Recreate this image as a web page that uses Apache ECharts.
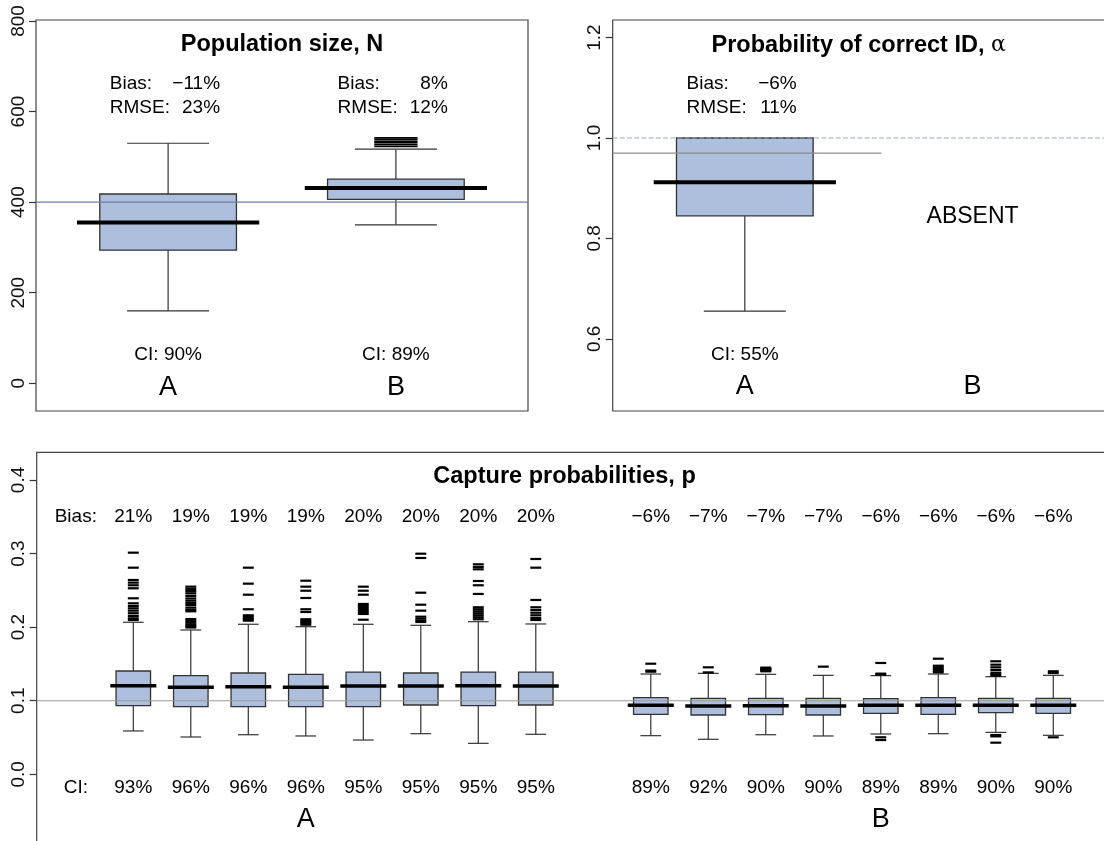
<!DOCTYPE html>
<html>
<head>
<meta charset="utf-8">
<script src="https://cdn.jsdelivr.net/npm/echarts@6/dist/echarts.min.js"></script>
<style>
  html, body { margin: 0; padding: 0; background: #ffffff; }
  #chart { width: 1104px; height: 841px; }
</style>
</head>
<body>
<div id="chart"></div>
<script>
// ---------- Population size, N ----------
const popCategories = ['A', 'B'];
// [lower whisker, Q1, median, Q3, upper whisker]
const popStats = [
  [160, 294, 355, 418, 530],
  [350, 406, 431, 451, 517]
];
const popOutliersA = [];
const popOutliersB = [523, 527, 531, 534, 538, 542];
const popBias = ['\u221211%', '8%'];
const popRmse = ['23%', '12%'];
const popCI = ['90%', '89%'];
const popTrue = 400;
const popTicks = [0, 200, 400, 600, 800];

// ---------- Probability of correct ID, alpha ----------
const alphaCategories = ['A', 'B'];
const alphaStatsA = [0.655, 0.845, 0.912, 1.0, 1.0];
const alphaBias = ['\u22126%'];
const alphaRmse = ['11%'];
const alphaCI = ['55%'];
const alphaTrue = 1.0;
const alphaRef = 0.97;
const alphaTicks = [0.6, 0.8, 1.0, 1.2];

// ---------- Capture probabilities, p ----------
const pCategories = ['A', 'B'];
const pStatsA = [
  [0.0589, 0.0933, 0.1205, 0.1404, 0.2066],
  [0.0507, 0.0919, 0.1182, 0.1340, 0.1961],
  [0.0538, 0.0919, 0.1191, 0.1377, 0.2039],
  [0.0521, 0.0919, 0.1182, 0.1359, 0.2006],
  [0.0466, 0.0919, 0.1200, 0.1390, 0.2039],
  [0.0552, 0.0942, 0.1200, 0.1377, 0.2025],
  [0.0421, 0.0933, 0.1205, 0.1390, 0.2074],
  [0.0544, 0.0942, 0.1200, 0.1390, 0.2043]
];
const pStatsB = [
  [0.0525, 0.0815, 0.0938, 0.1041, 0.1363],
  [0.0476, 0.0806, 0.0928, 0.1033, 0.1372],
  [0.0538, 0.0810, 0.0933, 0.1033, 0.1359],
  [0.0521, 0.0806, 0.0928, 0.1033, 0.1345],
  [0.0548, 0.0829, 0.0938, 0.1028, 0.1341],
  [0.0552, 0.0815, 0.0938, 0.1041, 0.1363],
  [0.0570, 0.0838, 0.0938, 0.1033, 0.1327],
  [0.0530, 0.0829, 0.0938, 0.1033, 0.1345]
];
const pOutliersA = [
  [0.3012, 0.2808, 0.2641, 0.2605, 0.2569, 0.2528, 0.2392, 0.2324, 0.2288, 0.2256, 0.2224, 0.2189, 0.2152, 0.2120, 0.2097],
  [0.2550, 0.2519, 0.2490, 0.2460, 0.2425, 0.2390, 0.2360, 0.2330, 0.2300, 0.2265, 0.2235, 0.2215, 0.2110, 0.2085, 0.2060, 0.2035, 0.2015, 0.1995],
  [0.2808, 0.2591, 0.2441, 0.2243, 0.2161, 0.2142, 0.2124, 0.2107, 0.2088],
  [0.2631, 0.2550, 0.2495, 0.2396, 0.2243, 0.2206, 0.2107, 0.2088, 0.2070, 0.2052, 0.2033],
  [0.2550, 0.2495, 0.2441, 0.2315, 0.2288, 0.2260, 0.2233, 0.2206, 0.2179, 0.2101],
  [0.2998, 0.2940, 0.2468, 0.2305, 0.2224, 0.2142, 0.2115, 0.2088, 0.2070],
  [0.2854, 0.2818, 0.2786, 0.2627, 0.2569, 0.2451, 0.2270, 0.2243, 0.2215, 0.2188, 0.2161, 0.2134, 0.2107],
  [0.2926, 0.2808, 0.2369, 0.2270, 0.2233, 0.2196, 0.2161, 0.2124, 0.2097]
];
const pOutliersB = [
  [0.1503, 0.1410, 0.1395],
  [0.1454, 0.1385],
  [0.1450, 0.1440, 0.1430, 0.1420, 0.1410, 0.1400],
  [0.1463],
  [0.1513, 0.1368, 0.1355, 0.0503, 0.0466],
  [0.1571, 0.1476, 0.1454, 0.1431, 0.1408, 0.1386],
  [0.1536, 0.1490, 0.1454, 0.1418, 0.1381, 0.1359, 0.1341, 0.0534, 0.0516, 0.0430],
  [0.1400, 0.1377, 0.0503]
];
const pBiasA = ['21%', '19%', '19%', '19%', '20%', '20%', '20%', '20%'];
const pBiasB = ['\u22126%', '\u22127%', '\u22127%', '\u22127%', '\u22126%', '\u22126%', '\u22126%', '\u22126%'];
const pCIA = ['93%', '96%', '96%', '96%', '95%', '95%', '95%', '95%'];
const pCIB = ['89%', '92%', '90%', '90%', '89%', '89%', '90%', '90%'];
const pTrue = 0.1;
const pTicks = [0.0, 0.1, 0.2, 0.3, 0.4];

// ---------- drawing helpers ----------
const FONT = '"Liberation Sans", Arial, Helvetica, sans-serif';
const BOX_FILL = '#adbfdc';
const INK = '#333333';

// Box-and-whisker glyph: box half-width 0.3, staple half-width 0.18, median half-width 0.4 (x units)
function boxSeries(gi, positions, stats, medianWidth) {
  return {
    type: 'custom', xAxisIndex: gi, yAxisIndex: gi, z: 2, silent: true,
    data: positions.map((p, i) => [p].concat(stats[i])),
    encode: { x: 0, y: [1, 2, 3, 4, 5] },
    renderItem: function (params, api) {
      const x = api.value(0);
      const lo = api.value(1), q1 = api.value(2), md = api.value(3), q3 = api.value(4), hi = api.value(5);
      const c = (xx, yy) => api.coord([xx, yy]);
      const seg = (a, b, w, col) => ({ type: 'line', shape: { x1: a[0], y1: a[1], x2: b[0], y2: b[1] }, style: { stroke: col || INK, lineWidth: w } });
      const tl = c(x - 0.3, q3), br = c(x + 0.3, q1);
      const kids = [];
      if (hi > q3) { kids.push(seg(c(x, q3), c(x, hi), 1.2)); kids.push(seg(c(x - 0.18, hi), c(x + 0.18, hi), 1.2)); }
      kids.push(seg(c(x, q1), c(x, lo), 1.2));
      kids.push(seg(c(x - 0.18, lo), c(x + 0.18, lo), 1.2));
      kids.push({ type: 'rect', shape: { x: tl[0], y: tl[1], width: br[0] - tl[0], height: br[1] - tl[1] },
                  style: { fill: BOX_FILL, stroke: INK, lineWidth: 1.3 } });
      kids.push(seg(c(x - 0.4, md), c(x + 0.4, md), medianWidth, '#000000'));
      return { type: 'group', children: kids };
    }
  };
}

// Outliers drawn as short horizontal dashes
function outlierSeries(gi, positions, lists, lw) {
  const data = [];
  positions.forEach((p, i) => (lists[i] || []).forEach(v => data.push([p, v])));
  return {
    type: 'custom', xAxisIndex: gi, yAxisIndex: gi, z: 2, silent: true,
    data: data, encode: { x: 0, y: 1 },
    renderItem: function (params, api) {
      const a = api.coord([api.value(0) - 0.095, api.value(1)]);
      const b = api.coord([api.value(0) + 0.095, api.value(1)]);
      return { type: 'line', shape: { x1: a[0], y1: a[1], x2: b[0], y2: b[1] }, style: { stroke: '#000', lineWidth: lw } };
    }
  };
}

function refLine(gi, x1, x2, y, color, type) {
  return {
    type: 'line', xAxisIndex: gi, yAxisIndex: gi, z: 3, silent: true,
    data: [[x1, y], [x2, y]], showSymbol: false, symbol: 'none',
    lineStyle: { color: color, width: 1.2, type: type || 'solid' }, animation: false
  };
}

// Text placed at data coordinates
function textSeries(gi, items) {
  return {
    type: 'custom', xAxisIndex: gi, yAxisIndex: gi, z: 4, silent: true,
    data: items.map(t => [t.x, t.y]), encode: { x: 0, y: 1 },
    renderItem: function (params, api) {
      const t = items[params.dataIndex];
      const p = api.coord([api.value(0), api.value(1)]);
      const style = {
        text: t.text, fill: '#000', fontFamily: FONT,
        fontSize: t.size || 19, fontWeight: t.bold ? 'bold' : 'normal',
        align: t.align || 'center', verticalAlign: 'middle'
      };
      if (t.rich) style.rich = t.rich;
      return { type: 'text', x: p[0], y: p[1], style: style };
    }
  };
}

function yAxis(gi, min, max, ticks, digits) {
  return {
    gridIndex: gi, type: 'value', min: min, max: max, position: 'left',
    axisLine: { show: false, onZero: false }, splitLine: { show: false },
    axisTick: { show: true, length: 7, customValues: ticks, lineStyle: { color: INK, width: 1.2 } },
    axisLabel: {
      customValues: ticks, rotate: 90, margin: 8, fontSize: 19, fontFamily: FONT, color: '#111',
      formatter: v => Number(v).toFixed(digits)
    }
  };
}
function xAxis(gi, min, max) {
  return { gridIndex: gi, type: 'value', min: min, max: max, show: false, axisLine: { onZero: false } };
}

// ---------- panel texts ----------
const popPos = [1, 2];
const popTexts = [{ x: 1.5, y: 747, text: 'Population size, N', bold: true, size: 23.5 }];
popPos.forEach((p, i) => {
  popTexts.push({ x: p - 0.256, y: 661, text: 'Bias:', align: 'left' });
  popTexts.push({ x: p + 0.228, y: 661, text: popBias[i], align: 'right' });
  popTexts.push({ x: p - 0.256, y: 608, text: 'RMSE:', align: 'left' });
  popTexts.push({ x: p + 0.228, y: 608, text: popRmse[i], align: 'right' });
  popTexts.push({ x: p, y: 62.5, text: 'CI: ' + popCI[i] });
  popTexts.push({ x: p, y: -8.5, text: popCategories[i], size: 27 });
});

const alphaTexts = [
  { x: 1.5, y: 1.185, text: '{b|Probability of correct ID, }{a|\u03b1}', size: 23.5,
    rich: { b: { fontFamily: FONT, fontWeight: 'bold', fontSize: 23.5, fill: '#000' },
            a: { fontFamily: '"DejaVu Serif", "Liberation Serif", serif', fontSize: 22, fill: '#000' } } },
  { x: 1 - 0.256, y: 1.1076, text: 'Bias:', align: 'left' },
  { x: 1 + 0.228, y: 1.1076, text: alphaBias[0], align: 'right' },
  { x: 1 - 0.256, y: 1.0598, text: 'RMSE:', align: 'left' },
  { x: 1 + 0.228, y: 1.0598, text: alphaRmse[0], align: 'right' },
  { x: 1, y: 0.5677, text: 'CI: ' + alphaCI[0] },
  { x: 2, y: 0.8432, text: 'ABSENT', size: 23 },
  { x: 1, y: 0.504, text: alphaCategories[0], size: 27 },
  { x: 2, y: 0.504, text: alphaCategories[1], size: 27 }
];

const pPosA = [1, 2, 3, 4, 5, 6, 7, 8];
const pPosB = [10, 11, 12, 13, 14, 15, 16, 17];
const pTexts = [
  { x: 8.5, y: 0.4045, text: 'Capture probabilities, p', bold: true, size: 23.5 },
  { x: 0, y: 0.3501, text: 'Bias:' },
  { x: 0, y: -0.0177, text: 'CI:' },
  { x: 4, y: -0.0621, text: pCategories[0], size: 27 },
  { x: 14, y: -0.0621, text: pCategories[1], size: 27 }
];
pPosA.forEach((p, i) => {
  pTexts.push({ x: p, y: 0.3501, text: pBiasA[i] });
  pTexts.push({ x: p, y: -0.0177, text: pCIA[i] });
});
pPosB.forEach((p, i) => {
  pTexts.push({ x: p, y: 0.3501, text: pBiasB[i] });
  pTexts.push({ x: p, y: -0.0177, text: pCIB[i] });
});

// Panels 2 and 3 run past the right/bottom page edge, so bounds clamping is turned off
const gridBase = { show: true, borderColor: '#444', borderWidth: 1.2, backgroundColor: 'transparent',
                   containLabel: false, outerBoundsMode: 'none' };

const option = {
  animation: false,
  backgroundColor: '#ffffff',
  grid: [
    Object.assign({ left: 36, top: 20, width: 492, height: 391 }, gridBase),
    Object.assign({ left: 612.7, top: 20, width: 492, height: 391 }, gridBase),
    Object.assign({ left: 36.7, top: 452.3, width: 1087.3, height: 408.7 }, gridBase)
  ],
  xAxis: [xAxis(0, 0.42, 2.58), xAxis(1, 0.42, 2.58), xAxis(2, -0.68, 18.23)],
  yAxis: [
    yAxis(0, -61.2, 802.2, popTicks, 0),
    yAxis(1, 0.4562, 1.235, alphaTicks, 1),
    yAxis(2, -0.1178, 0.4376, pTicks, 1)
  ],
  series: [
    boxSeries(0, popPos, popStats, 4),
    outlierSeries(0, popPos, [popOutliersA, popOutliersB], 1.6),
    refLine(0, 0.42, 2.58, popTrue, '#6b7fa3'),
    textSeries(0, popTexts),

    boxSeries(1, [1], [alphaStatsA], 4),
    refLine(1, 0.42, 2.58, alphaTrue, '#97a6c4', 'dashed'),
    refLine(1, 0.42, 1.6, alphaRef, '#8c8c8c'),
    textSeries(1, alphaTexts),

    boxSeries(2, pPosA, pStatsA, 3.5),
    boxSeries(2, pPosB, pStatsB, 3.5),
    outlierSeries(2, pPosA, pOutliersA, 2.2),
    outlierSeries(2, pPosB, pOutliersB, 2.2),
    refLine(2, -0.68, 18.23, pTrue, '#9a9a9a'),
    textSeries(2, pTexts)
  ]
};

const chart = echarts.init(document.getElementById('chart'), null, { renderer: 'canvas' });
chart.setOption(option);
</script>
</body>
</html>
